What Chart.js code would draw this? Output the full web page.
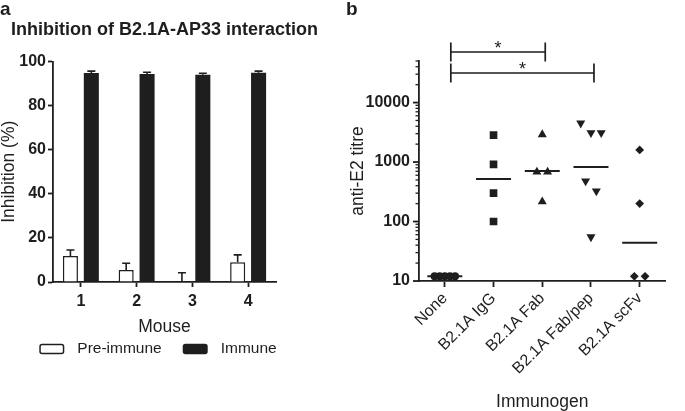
<!DOCTYPE html>
<html lang="en">
<head>
  <meta charset="UTF-8">
  <title>B2.1A inhibition and anti-E2 titres</title>
  <script src="https://cdn.jsdelivr.net/npm/chart.js"></script>
  <style>
    body { margin: 0; background: #fff; }
    .figure { position: relative; width: 685px; height: 411px; font-family: 'Liberation Sans', Arial, sans-serif; color: #1e1e1e; }
    .figure canvas { position: absolute; top: 0; }
    #chartA { left: 0; }
    #chartB { left: 340px; }
    .panel { position: absolute; top: -1px; font-size: 19px; font-weight: bold; line-height: 1; }
  </style>
</head>
<body>
  <div class="figure">
    <canvas id="chartA" width="340" height="411"></canvas>
    <canvas id="chartB" width="345" height="411"></canvas>
    <div class="panel" style="left:0">a</div>
    <div class="panel" style="left:346px">b</div>
  </div>

  <script>
    // panel a: inhibition per mouse
    const mice = ['1', '2', '3', '4'];
    const preImmune = [11.8, 5.5, 0, 9.0];
    const preImmuneErr = [2.7, 3.0, 4.2, 3.3];
    const immune = [94.8, 94.4, 94.0, 94.9];
    const immuneErr = [0.9, 0.8, 0.7, 0.8];
    const inhibitionTicks = [0, 20, 40, 60, 80, 100];

    // panel b: anti-E2 titres per immunogen
    const immunogens = ['None', 'B2.1A IgG', 'B2.1A Fab', 'B2.1A Fab/pep', 'B2.1A scFv'];
    const titreNone = [12, 12, 12, 12, 12];
    const titreIgG = [2840, 915, 300, 100];
    const titreFab = [2900, 680, 680, 215];
    const titreFabPep = [4500, 3100, 3100, 480, 326, 55];
    const titreScFv = [1600, 200, 12, 12];
    const titreLines = [12, 520, 710, 825, 44];
    const titreTicks = [10, 100, 1000, 10000];
    const titreMax = 50000;
    const comparisons = [['None', 'B2.1A Fab', '*'], ['None', 'B2.1A Fab/pep', '*']];

    const ink = '#1e1e1e';
    const family = "'Liberation Sans', Arial, sans-serif";
    Chart.defaults.font.family = family;
    Chart.defaults.color = ink;

    // upper whiskers with a cap
    const errorBars = {
      id: 'errorBars',
      afterDatasetsDraw(chart) {
        const { ctx, scales: { y } } = chart;
        ctx.save();
        ctx.strokeStyle = ink;
        ctx.lineWidth = 1.6;
        chart.data.datasets.forEach((ds, di) => {
          if (!ds.errors) return;
          chart.getDatasetMeta(di).data.forEach((bar, i) => {
            const top = y.getPixelForValue(ds.data[i]);
            const end = y.getPixelForValue(ds.data[i] + ds.errors[i]);
            ctx.beginPath();
            ctx.moveTo(bar.x, top);
            ctx.lineTo(bar.x, end);
            ctx.moveTo(bar.x - 4, end);
            ctx.lineTo(bar.x + 4, end);
            ctx.stroke();
          });
        });
        ctx.restore();
      }
    };

    // legend row under panel a
    const boxLegend = {
      id: 'boxLegend',
      afterDraw(chart, args, opts) {
        const { ctx, chartArea } = chart;
        ctx.save();
        ctx.font = opts.size + 'px ' + family;
        const items = chart.data.datasets.map(ds => ({ ds, w: 25 + 13 + ctx.measureText(ds.label).width }));
        const total = items.reduce((s, it) => s + it.w, 0) + 21 * (items.length - 1);
        let x = (chartArea.left + chartArea.right) / 2 + opts.shift - total / 2;
        const y = chartArea.bottom + opts.below;
        items.forEach(({ ds, w }) => {
          ctx.fillStyle = ds.backgroundColor;
          ctx.strokeStyle = ds.borderColor || ds.backgroundColor;
          ctx.lineWidth = 1.5;
          ctx.beginPath();
          if (ctx.roundRect) ctx.roundRect(x + 0.75, y - 4.5, 23.5, 9, 2);
          else ctx.rect(x + 0.75, y - 4.5, 23.5, 9);
          ctx.fill();
          ctx.stroke();
          ctx.fillStyle = ink;
          ctx.textBaseline = 'middle';
          ctx.fillText(ds.label, x + 38, y);
          x += w + 21;
        });
        ctx.restore();
      }
    };

    new Chart(document.getElementById('chartA'), {
      type: 'bar',
      data: {
        labels: mice,
        datasets: [
          { label: 'Pre-immune', data: preImmune, errors: preImmuneErr, backgroundColor: '#ffffff', borderColor: ink, borderWidth: 1.5 },
          { label: 'Immune', data: immune, errors: immuneErr, backgroundColor: ink, borderWidth: 0 },
        ],
      },
      options: {
        responsive: false,
        animation: false,
        events: [],
        layout: { padding: { top: 0, left: 0, right: 11, bottom: 75 } },
        datasets: { bar: { categoryPercentage: 0.75, barPercentage: 0.72 } },
        scales: {
          x: {
            afterFit(scale) { scale.height = 54; },
            grid: { drawOnChartArea: false, offset: false, tickLength: 5, tickWidth: 1.8, tickColor: ink },
            border: { color: ink, width: 1.8 },
            ticks: { font: { size: 16, weight: 'bold' }, padding: 5 },
            title: { display: true, text: 'Mouse', font: { size: 17.5, lineHeight: 1 }, padding: { top: 0, bottom: 0 } },
          },
          y: {
            min: 0,
            max: 100,
            afterFit(scale) { scale.width = 53; },
            afterBuildTicks(scale) { scale.ticks = inhibitionTicks.map(v => ({ value: v })); },
            grid: { drawOnChartArea: false, tickLength: 5, tickWidth: 1.8, tickColor: ink },
            border: { color: ink, width: 1.8 },
            ticks: { font: { size: 16, weight: 'bold' }, padding: 2 },
            title: { display: true, text: 'Inhibition (%)', font: { size: 17.5, lineHeight: 1 }, padding: { top: 0, bottom: 0 } },
          },
          // empty strip on the right so the title can centre over the plot
          gap: {
            type: 'linear',
            position: 'right',
            afterFit(scale) { scale.width = 53; },
            grid: { display: false, drawTicks: false },
            border: { display: false },
            ticks: { display: false },
          },
        },
        plugins: {
          legend: { display: false },
          tooltip: { enabled: false },
          title: {
            display: true,
            text: 'Inhibition of B2.1A-AP33 interaction',
            color: ink,
            font: { size: 18, weight: 'bold', lineHeight: 1.2 },
            padding: { top: 19, bottom: 21 },
          },
          boxLegend: { size: 15.5, shift: -6.5, below: 67 },
        },
      },
      plugins: [errorBars, boxLegend],
    });

    // spread points that share a row, GraphPad style
    function swarm(values, index) {
      const order = values.map((v, i) => i).sort((a, b) => values[b] - values[a]);
      const rows = [];
      order.forEach(i => {
        const row = rows[rows.length - 1];
        if (row && Math.log10(values[row[0]]) - Math.log10(values[i]) < 0.19) row.push(i);
        else rows.push([i]);
      });
      const points = [];
      rows.forEach(row => {
        const step = row.length > 1 ? Math.min(0.22, 0.42 / (row.length - 1)) : 0;
        row.forEach((i, k) => points.push({ x: index + (k - (row.length - 1) / 2) * step, y: values[i] }));
      });
      return points;
    }

    const groups = [titreNone, titreIgG, titreFab, titreFabPep, titreScFv];
    const markers = [
      { style: 'circle', radius: 4, rotation: 0 },
      { style: 'rect', radius: 5.4, rotation: 0 },
      { style: 'triangle', radius: 5.2, rotation: 0 },
      { style: 'triangle', radius: 5.2, rotation: 180 },
      { style: 'rectRot', radius: 4.4, rotation: 0 },
    ];

    // log axis tick marks, long at decades
    const logTicks = {
      id: 'logTicks',
      afterDraw(chart) {
        const { ctx } = chart;
        const y = chart.scales.y;
        ctx.save();
        ctx.strokeStyle = ink;
        y.ticks.forEach(t => {
          const py = y.getPixelForValue(t.value);
          const major = titreTicks.includes(t.value);
          ctx.lineWidth = major ? 1.8 : 1.3;
          ctx.beginPath();
          ctx.moveTo(y.right - (major ? 6 : 3.5), py);
          ctx.lineTo(y.right, py);
          ctx.stroke();
        });
        ctx.restore();
      }
    };

    // significance brackets above panel b
    const brackets = {
      id: 'brackets',
      afterDraw(chart, args, opts) {
        const { ctx, chartArea, scales: { x } } = chart;
        ctx.save();
        ctx.strokeStyle = ink;
        ctx.fillStyle = ink;
        ctx.lineWidth = 1.7;
        ctx.font = '18px ' + family;
        ctx.textAlign = 'center';
        ctx.textBaseline = 'alphabetic';
        comparisons.forEach(([from, to, mark], k) => {
          const x1 = x.getPixelForValue(immunogens.indexOf(from)) + opts.inset;
          const x2 = x.getPixelForValue(immunogens.indexOf(to)) + opts.inset / 2;
          const yy = chartArea.top + opts.levels[k];
          ctx.beginPath();
          ctx.moveTo(x1, yy);
          ctx.lineTo(x2, yy);
          ctx.moveTo(x1, yy - 9.5);
          ctx.lineTo(x1, yy + 9.5);
          ctx.moveTo(x2, yy - 9.5);
          ctx.lineTo(x2, yy + 9.5);
          ctx.stroke();
          ctx.fillText(mark, (x1 + x2) / 2, yy + 2);
        });
        ctx.restore();
      }
    };

    const scatterSets = groups.map((vals, i) => ({
      label: immunogens[i],
      data: swarm(vals, i),
      pointStyle: markers[i].style,
      pointRadius: markers[i].radius,
      pointRotation: markers[i].rotation,
      pointBackgroundColor: ink,
      pointBorderWidth: 0,
    }));
    scatterSets.push({
      label: 'Centre',
      data: titreLines.map((v, i) => ({ x: i, y: v })),
      pointStyle: 'line',
      pointRadius: 17.5,
      pointBorderColor: ink,
      pointBorderWidth: 2,
    });

    new Chart(document.getElementById('chartB'), {
      type: 'scatter',
      data: { datasets: scatterSets },
      options: {
        responsive: false,
        animation: false,
        events: [],
        layout: { padding: { top: 61, left: 0, right: 0, bottom: 0 } },
        scales: {
          x: {
            type: 'linear',
            min: -0.53,
            max: immunogens.length - 0.47,
            afterFit(scale) { scale.height = 130; },
            afterBuildTicks(scale) { scale.ticks = immunogens.map((c, i) => ({ value: i })); },
            grid: { drawOnChartArea: false, tickLength: 6, tickWidth: 1.8, tickColor: ink },
            border: { color: ink, width: 1.8 },
            ticks: {
              autoSkip: false,
              minRotation: 45,
              maxRotation: 45,
              padding: 2,
              font: { size: 16 },
              callback: v => immunogens[v],
            },
            title: { display: true, text: 'Immunogen', font: { size: 17.5, lineHeight: 1 }, padding: { top: 0, bottom: 0 } },
          },
          y: {
            type: 'logarithmic',
            min: titreTicks[0],
            max: titreMax,
            afterFit(scale) { scale.width = 79; },
            afterBuildTicks(scale) {
              const ticks = [];
              titreTicks.forEach(d => {
                for (let m = 1; m <= 9; m++) if (m * d <= titreMax) ticks.push({ value: m * d });
              });
              scale.ticks = ticks;
            },
            grid: { display: false, drawTicks: true, tickLength: 6 },
            border: { color: ink, width: 1.8 },
            ticks: {
              autoSkip: false,
              padding: 3,
              font: { size: 16, weight: 'bold' },
              callback: v => (titreTicks.includes(v) ? String(v) : ''),
            },
            title: { display: true, text: 'anti-E2 titre', font: { size: 17.5, lineHeight: 1 }, padding: { top: 9.25, bottom: 0 } },
          },
        },
        plugins: {
          legend: { display: false },
          tooltip: { enabled: false },
          brackets: { levels: [-9, 12], inset: 6 },
        },
      },
      plugins: [logTicks, brackets],
    });
  </script>
</body>
</html>
